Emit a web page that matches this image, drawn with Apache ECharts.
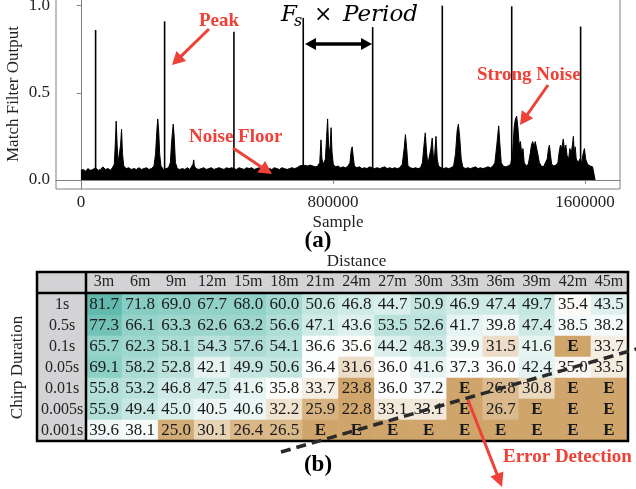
<!DOCTYPE html>
<html>
<head>
<meta charset="utf-8">
<script src="https://cdn.jsdelivr.net/npm/echarts@6/dist/echarts.min.js"></script>
<style>
  html, body { margin: 0; padding: 0; background: #fff; }
  #chart { width: 636px; height: 489px; }
</style>
</head>
<body>
<div id="chart"></div>
<script>
// (a) match filter output, sample in thousands
const trace = [
  [0, 0.055], [8, 0.06], [15, 0.05], [22, 0.065], [30, 0.055], [38, 0.06], [46, 0.07], [55, 0.055],
  [62, 0.06], [70, 0.075], [78, 0.06], [86, 0.065], [94, 0.055], [100, 0.07], [106, 0.09], [109, 0.2],
  [112, 0.337], [115, 0.2], [118, 0.1], [122, 0.09], [126, 0.2], [129, 0.29], [132, 0.15], [136, 0.08],
  [144, 0.065], [152, 0.07], [160, 0.06], [168, 0.065], [176, 0.06], [184, 0.07], [192, 0.06], [200, 0.065],
  [208, 0.07], [216, 0.06], [224, 0.065], [232, 0.08], [237, 0.15], [241, 0.28], [244, 0.35], [247, 0.28],
  [250, 0.15], [254, 0.08], [262, 0.06], [270, 0.065], [278, 0.07], [284, 0.1], [288, 0.22], [293, 0.32],
  [296, 0.25], [300, 0.1], [306, 0.065], [314, 0.06], [322, 0.065], [330, 0.06], [338, 0.07], [346, 0.06],
  [352, 0.07], [356, 0.09], [358, 0.115], [360, 0.08], [366, 0.065], [374, 0.06], [382, 0.065], [390, 0.07],
  [398, 0.06], [406, 0.065], [414, 0.07], [422, 0.06], [430, 0.065], [438, 0.07], [446, 0.065], [454, 0.06],
  [462, 0.07], [470, 0.065], [478, 0.07], [486, 0.065], [494, 0.06], [502, 0.07], [510, 0.065], [518, 0.06],
  [526, 0.07], [534, 0.065], [542, 0.07], [550, 0.06], [558, 0.065], [566, 0.07], [574, 0.06], [582, 0.065],
  [590, 0.07], [598, 0.065], [606, 0.06], [614, 0.07], [622, 0.065], [630, 0.06], [638, 0.07], [646, 0.065],
  [654, 0.06], [662, 0.065], [670, 0.07], [678, 0.065], [686, 0.07], [694, 0.08], [700, 0.09], [706, 0.085],
  [712, 0.09], [720, 0.08], [728, 0.085], [736, 0.08], [744, 0.075], [752, 0.08], [758, 0.1], [762, 0.23],
  [765, 0.12], [770, 0.09], [776, 0.12], [780, 0.25], [783, 0.35], [786, 0.2], [790, 0.15], [794, 0.3],
  [797, 0.16], [801, 0.09], [808, 0.075], [816, 0.08], [824, 0.07], [832, 0.075], [840, 0.07], [848, 0.08],
  [854, 0.1], [858, 0.17], [861, 0.19], [864, 0.14], [868, 0.08], [876, 0.07], [884, 0.075], [892, 0.065],
  [900, 0.07], [908, 0.065], [916, 0.075], [924, 0.07], [932, 0.065], [940, 0.07], [948, 0.065], [956, 0.07],
  [964, 0.075], [972, 0.065], [980, 0.07], [988, 0.065], [996, 0.07], [1004, 0.065], [1012, 0.07], [1020, 0.09],
  [1026, 0.18], [1030, 0.26], [1034, 0.18], [1038, 0.08], [1046, 0.07], [1054, 0.065], [1062, 0.07], [1070, 0.065],
  [1078, 0.07], [1084, 0.1], [1089, 0.2], [1093, 0.27], [1097, 0.16], [1101, 0.09], [1106, 0.1], [1111, 0.18],
  [1115, 0.24], [1119, 0.12], [1123, 0.15], [1127, 0.25], [1131, 0.12], [1135, 0.08], [1143, 0.07], [1151, 0.065],
  [1159, 0.07], [1167, 0.065], [1175, 0.07], [1183, 0.08], [1189, 0.15], [1194, 0.28], [1198, 0.32], [1202, 0.25],
  [1207, 0.12], [1212, 0.075], [1220, 0.065], [1228, 0.07], [1236, 0.065], [1244, 0.07], [1252, 0.075], [1260, 0.065],
  [1268, 0.07], [1276, 0.065], [1284, 0.07], [1292, 0.075], [1300, 0.07], [1308, 0.08], [1314, 0.1], [1320, 0.2],
  [1326, 0.31], [1330, 0.2], [1334, 0.1], [1340, 0.08], [1348, 0.075], [1356, 0.08], [1364, 0.09], [1370, 0.15],
  [1375, 0.3], [1379, 0.35], [1383, 0.366], [1387, 0.3], [1391, 0.2], [1395, 0.22], [1399, 0.15], [1403, 0.18],
  [1407, 0.1], [1413, 0.08], [1420, 0.09], [1426, 0.15], [1430, 0.2], [1434, 0.22], [1438, 0.19], [1442, 0.22],
  [1446, 0.21], [1450, 0.15], [1455, 0.1], [1461, 0.08], [1468, 0.075], [1474, 0.08], [1480, 0.12], [1484, 0.18],
  [1487, 0.2], [1490, 0.15], [1494, 0.09], [1501, 0.08], [1508, 0.085], [1514, 0.1], [1518, 0.16], [1522, 0.2],
  [1526, 0.18], [1531, 0.235], [1535, 0.17], [1539, 0.2], [1543, 0.14], [1548, 0.12], [1552, 0.18], [1556, 0.15],
  [1560, 0.2], [1563, 0.25], [1566, 0.15], [1569, 0.19], [1572, 0.12], [1578, 0.1], [1584, 0.12], [1588, 0.09],
  [1594, 0.15], [1598, 0.18], [1602, 0.12], [1608, 0.09], [1616, 0.08], [1624, 0.075], [1630, 0.07], [1632, 0]
]
const peakSamples = [46.7, 265.7, 485.7, 705.7, 926, 1147, 1367.3, 1586]
const peakValues = [0.86, 0.91, 0.85, 0.93, 0.877, 1.0, 0.996, 0.88]
const xTicks = [0, 800000, 1600000]
const yTicks = [0, 0.5, 1.0]

// (b) table, null = error detection
const distances = ['3m', '6m', '9m', '12m', '15m', '18m', '21m', '24m', '27m', '30m', '33m', '36m', '39m', '42m', '45m']
const durations = ['1s', '0.5s', '0.1s', '0.05s', '0.01s', '0.005s', '0.001s']
const row1s = [81.7, 71.8, 69.0, 67.7, 68.0, 60.0, 50.6, 46.8, 44.7, 50.9, 46.9, 47.4, 49.7, 35.4, 43.5]
const row05s = [77.3, 66.1, 63.3, 62.6, 63.2, 56.6, 47.1, 43.6, 53.5, 52.6, 41.7, 39.8, 47.4, 38.5, 38.2]
const row01s = [65.7, 62.3, 58.1, 54.3, 57.6, 54.1, 36.6, 35.6, 44.2, 48.3, 39.9, 31.5, 41.6, null, 33.7]
const row005s = [69.1, 58.2, 52.8, 42.1, 49.9, 50.6, 36.4, 31.6, 36.0, 41.6, 37.3, 36.0, 42.4, 35.0, 33.5]
const row001s = [55.8, 53.2, 46.8, 47.5, 41.6, 35.8, 33.7, 23.8, 36.0, 37.2, null, 26.8, 30.8, null, null]
const row0005s = [55.9, 49.4, 45.0, 40.5, 40.6, 32.2, 25.9, 22.8, 33.1, 33.1, null, 26.7, null, null, null]
const row0001s = [39.6, 38.1, 25.0, 30.1, 26.4, 26.5, null, null, null, null, null, null, null, null, null]
const tableRows = [row1s, row05s, row01s, row005s, row001s, row0005s, row0001s]

const SERIF = '"Liberation Serif", "Times New Roman", serif'
const MATH = '"DejaVu Serif", serif'
const RED = '#ee4137'
const TAN = '#cfa56b'

const cells = []
tableRows.forEach((row, r) => {
  row.forEach((v, c) => {
    if (v == null) {
      cells.push({value: [c, r, 24], label: {formatter: 'E', fontWeight: 'bold'}})
    } else {
      cells.push({value: [c, r, v], label: {formatter: v.toFixed(1)}})
    }
  })
})

function arrow (x1, y1, x2, y2, color, width, headLen, headW) {
  const dx = x2 - x1
  const dy = y2 - y1
  const len = Math.sqrt(dx * dx + dy * dy)
  const ux = dx / len
  const uy = dy / len
  const bx = x2 - ux * headLen
  const by = y2 - uy * headLen
  return [
    {type: 'line', z: 100, shape: {x1: x1, y1: y1, x2: bx + ux * 2, y2: by + uy * 2}, style: {stroke: color, lineWidth: width}},
    {type: 'polygon', z: 100, shape: {points: [[x2, y2], [bx - uy * headW, by + ux * headW], [bx + uy * headW, by - ux * headW]]}, style: {fill: color}}
  ]
}

function label (text, x, y, font, color, align) {
  return {type: 'text', z: 100, style: {text: text, x: x, y: y, fill: color || '#000', font: font, align: align || 'left', verticalAlign: 'middle'}}
}

function redText (text, x, y) {
  return label(text, x, y, 'bold 19px ' + SERIF, RED)
}

const chart = echarts.init(document.getElementById('chart'), null, {renderer: 'canvas'})

const option = {
  backgroundColor: '#fff',
  animation: false,
  textStyle: {fontFamily: SERIF},
  grid: [
    {left: 56, top: -1, right: 16, height: 190, show: true, borderColor: '#808080', borderWidth: 1, outerBoundsMode: 'none', containLabel: false},
    {left: 86, top: 294, width: 541, height: 147, outerBoundsMode: 'none', containLabel: false}
  ],
  xAxis: [
    {
      type: 'value', gridIndex: 0, min: -79000, max: 1711000,
      name: 'Sample', nameLocation: 'middle', nameGap: 25, nameMoveOverlap: false,
      nameTextStyle: {fontFamily: SERIF, fontSize: 17, color: '#222'},
      splitLine: {show: false},
      axisLine: {lineStyle: {color: '#808080'}},
      axisTick: {length: 4, lineStyle: {color: '#808080'}, customValues: xTicks},
      axisLabel: {fontFamily: SERIF, fontSize: 17, color: '#222', margin: 5, customValues: xTicks, formatter: v => String(v)}
    },
    {
      type: 'category', gridIndex: 1, data: distances, position: 'top',
      name: 'Distance', nameLocation: 'middle', nameGap: 24, nameMoveOverlap: false,
      nameTextStyle: {fontFamily: SERIF, fontSize: 17, color: '#222'},
      axisLine: {show: false}, axisTick: {show: false}, splitLine: {show: false},
      axisLabel: {fontFamily: SERIF, fontSize: 16, color: '#222', margin: 4, interval: 0}
    }
  ],
  yAxis: [
    {
      type: 'value', gridIndex: 0, min: -0.052, max: 1.038,
      name: 'Match Filter Output', nameLocation: 'middle', nameGap: 34, nameMoveOverlap: false,
      nameTextStyle: {fontFamily: SERIF, fontSize: 17, color: '#222'},
      splitLine: {show: false},
      axisLine: {lineStyle: {color: '#808080'}},
      axisTick: {length: 4, lineStyle: {color: '#808080'}, customValues: yTicks},
      axisLabel: {fontFamily: SERIF, fontSize: 17, color: '#222', margin: 6, customValues: yTicks, formatter: v => v.toFixed(1)}
    },
    {
      type: 'category', gridIndex: 1, data: durations, inverse: true,
      name: 'Chirp Duration', nameLocation: 'middle', nameGap: 60, nameRotate: 90, nameMoveOverlap: false,
      nameTextStyle: {fontFamily: SERIF, fontSize: 17, color: '#222'},
      axisLine: {show: false}, axisTick: {show: false}, splitLine: {show: false},
      axisLabel: {fontFamily: SERIF, fontSize: 16, color: '#222', margin: 24, align: 'center', interval: 0}
    }
  ],
  visualMap: {
    type: 'continuous', show: false, seriesIndex: 2, dimension: 2, min: 24, max: 84,
    inRange: {color: [TAN, '#ffffff', '#cbe9e4', '#a4d9d1', '#86cdc3', '#5ab4a9']}
  },
  series: [
    {
      name: 'output', type: 'line', xAxisIndex: 0, yAxisIndex: 0,
      data: trace.map(p => [p[0] * 1000, p[1]]),
      showSymbol: false, symbol: 'none', sampling: null,
      lineStyle: {color: '#000', width: 1},
      areaStyle: {color: '#000', opacity: 1},
      z: 3
    },
    {
      name: 'peaks', type: 'bar', xAxisIndex: 0, yAxisIndex: 0,
      data: peakSamples.map((s, i) => [s * 1000, peakValues[i]]),
      barWidth: 1.6, itemStyle: {color: '#000'}, z: 4
    },
    {
      name: 'table', type: 'heatmap', xAxisIndex: 1, yAxisIndex: 1,
      data: cells,
      label: {show: true, fontFamily: SERIF, fontSize: 17, color: '#1a1a1a'},
      itemStyle: {borderWidth: 0},
      emphasis: {disabled: true}
    }
  ],
  graphic: [
    // gray header row and row label column
    {type: 'rect', z: 0, shape: {x: 37, y: 272, width: 592, height: 22}, style: {fill: '#d3d3d5'}},
    {type: 'rect', z: 0, shape: {x: 37, y: 272, width: 49, height: 169}, style: {fill: '#d3d3d5'}},
    {type: 'rect', z: 90, shape: {x: 37, y: 272, width: 591, height: 169}, style: {fill: null, stroke: '#000', lineWidth: 2.5}},
    {type: 'line', z: 90, shape: {x1: 37, y1: 293, x2: 628, y2: 293}, style: {stroke: '#000', lineWidth: 2.5}},
    {type: 'line', z: 90, shape: {x1: 86, y1: 272, x2: 86, y2: 441}, style: {stroke: '#000', lineWidth: 2.5}},
    // panel labels
    label('(a)', 318, 241, 'bold 23px ' + SERIF, '#000', 'center'),
    label('(b)', 318, 465, 'bold 23px ' + SERIF, '#000', 'center'),
    // Fs x Period
    label('F', 281, 15, 'italic 23px ' + MATH),
    label('s', 294, 22, 'italic 16px ' + MATH),
    label('×', 314, 15, '22px ' + MATH),
    label('Period', 343, 15, 'italic 23px ' + MATH),
    ...arrow(338, 44, 305, 44, '#000', 3.5, 11, 6),
    ...arrow(338, 44, 372, 44, '#000', 3.5, 11, 6),
    // red annotations
    redText('Peak', 199, 21),
    ...arrow(209, 29, 172, 65, RED, 3, 13, 7),
    redText('Noise Floor', 189, 137),
    ...arrow(233, 148, 272, 174, RED, 3, 13, 7),
    redText('Strong Noise', 477, 75),
    ...arrow(548, 85, 520, 125, RED, 3, 13, 7),
    // error detection boundary
    {type: 'line', z: 95, shape: {x1: 281, y1: 452, x2: 640, y2: 348}, style: {stroke: '#2a2a2a', lineWidth: 3.5, lineDash: [10, 6]}},
    ...arrow(468, 400, 502, 487, RED, 3, 14, 7),
    redText('Error Detection', 503, 457)
  ]
}

chart.setOption(option)
</script>
</body>
</html>
